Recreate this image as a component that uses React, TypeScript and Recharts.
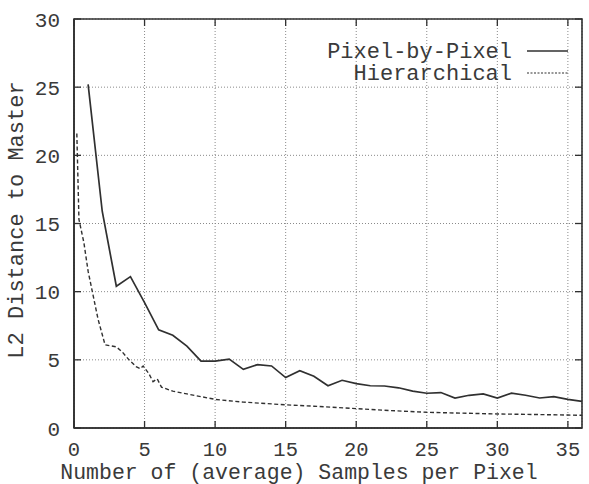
import React from "react";
import {
  LineChart,
  Line,
  XAxis,
  YAxis,
  CartesianGrid,
  ReferenceArea,
  Legend,
} from "recharts";

const xTicks = [0, 5, 10, 15, 20, 25, 30, 35];
const yTicks = [0, 5, 10, 15, 20, 25, 30];

const pixelX = [
  1, 2, 3, 4, 5, 6, 7, 8, 9, 10, 11, 12, 13, 14, 15, 16, 17, 18, 19, 20, 21,
  22, 23, 24, 25, 26, 27, 28, 29, 30, 31, 32, 33, 34, 35, 36,
];
const pixelY = [
  25.2, 15.9, 10.4, 11.1, 9.2, 7.2, 6.8, 6.0, 4.9, 4.9, 5.05, 4.3, 4.65, 4.55,
  3.7, 4.2, 3.8, 3.1, 3.5, 3.25, 3.1, 3.08, 2.95, 2.7, 2.55, 2.6, 2.2, 2.4, 2.5,
  2.2, 2.55, 2.4, 2.2, 2.3, 2.1, 1.95,
];

const hierX = [
  0.2, 0.35, 0.7, 1.0, 1.3, 1.7, 2.2, 3.0, 3.4, 3.9, 4.4, 4.7, 4.9, 5.3, 5.6,
  5.9, 6.2, 7, 8, 9, 10, 12, 15, 17, 20, 22, 25, 27, 30, 32, 35, 36,
];
const hierY = [
  21.6, 15.3, 13.6, 11.5, 10.0, 8.0, 6.1, 5.95, 5.6, 5.0, 4.5, 4.35, 4.55, 4.0,
  3.4, 3.6, 3.0, 2.7, 2.5, 2.3, 2.1, 1.9, 1.7, 1.6, 1.42, 1.3, 1.15, 1.1, 1.03,
  1.0, 0.95, 0.93,
];

const seriesNames = ["Pixel-by-Pixel", "Hierarchical"];
const xLabel = "Number of (average) Samples per Pixel";
const yLabel = "L2 Distance to Master";

const pixelData = pixelX.map((x, i) => ({ x, y: pixelY[i] }));
const hierData = hierX.map((x, i) => ({ x, y: hierY[i] }));

const FONT = "'Liberation Mono', 'Courier New', 'DejaVu Sans Mono', monospace";
const INK = "#303030";
const TEXT_INK = "#3a3a3a";
const PLOT_LEFT = 74;
const PLOT_RIGHT = 582;
const PLOT_TOP = 19;
const PLOT_BOTTOM = 428;
const TICK = 7;
const HIER_DASH = "4 2.5";

const XTick = (props: any) => {
  const { x, payload } = props;
  return (
    <g>
      <line
        x1={x}
        y1={PLOT_BOTTOM}
        x2={x}
        y2={PLOT_BOTTOM - TICK}
        stroke={INK}
        strokeWidth={1.3}
      />
      <line
        x1={x}
        y1={PLOT_TOP}
        x2={x}
        y2={PLOT_TOP + TICK}
        stroke={INK}
        strokeWidth={1.3}
      />
      <text
        x={x}
        y={PLOT_BOTTOM + 28}
        textAnchor="middle"
        fontFamily={FONT}
        fontSize={20.5}
        fill={TEXT_INK}
      >
        {payload.value}
      </text>
    </g>
  );
};

const YTick = (props: any) => {
  const { y, payload } = props;
  return (
    <g>
      <line
        x1={PLOT_LEFT}
        y1={y}
        x2={PLOT_LEFT + TICK}
        y2={y}
        stroke={INK}
        strokeWidth={1.3}
      />
      <line
        x1={PLOT_RIGHT}
        y1={y}
        x2={PLOT_RIGHT - TICK}
        y2={y}
        stroke={INK}
        strokeWidth={1.3}
      />
      <text
        x={PLOT_LEFT - 14}
        y={y + 7.5}
        textAnchor="end"
        fontFamily={FONT}
        fontSize={21}
        fill={TEXT_INK}
      >
        {payload.value}
      </text>
    </g>
  );
};

const LegendContent = () => (
  <svg width={589} height={90} style={{ display: "block" }}>
    <text
      x={512}
      y={57.5}
      textAnchor="end"
      fontFamily={FONT}
      fontSize={22}
      fill={TEXT_INK}
    >
      {seriesNames[0]}
    </text>
    <line x1={527} y1={51} x2={568} y2={51} stroke={INK} strokeWidth={1.4} />
    <text
      x={512}
      y={80}
      textAnchor="end"
      fontFamily={FONT}
      fontSize={22}
      fill={TEXT_INK}
    >
      {seriesNames[1]}
    </text>
    <line
      x1={527}
      y1={73}
      x2={568}
      y2={73}
      stroke={INK}
      strokeWidth={1.2}
      strokeDasharray="2 1.5"
    />
  </svg>
);

export default function App() {
  return (
    <div style={{ position: "absolute", left: 0, top: 0, background: "#fff" }}>
      <LineChart
        width={589}
        height={484}
        margin={{ top: 19, right: 7, bottom: 0, left: 0 }}
      >
        <CartesianGrid
          stroke="#8a8a8a"
          strokeDasharray="1 2"
          strokeWidth={1}
        />
        <XAxis
          type="number"
          dataKey="x"
          domain={[0, 36]}
          ticks={xTicks}
          allowDataOverflow
          height={56}
          tickSize={0}
          tickMargin={0}
          tickLine={false}
          axisLine={{ stroke: INK, strokeWidth: 1.6 }}
          tick={<XTick />}
          interval={0}
          label={{
            content: () => (
              <text
                x={299}
                y={479}
                textAnchor="middle"
                fontFamily={FONT}
                fontSize={21.5}
                fill={TEXT_INK}
              >
                {xLabel}
              </text>
            ),
          }}
        />
        <YAxis
          type="number"
          domain={[0, 30]}
          ticks={yTicks}
          allowDataOverflow
          width={74}
          tickSize={0}
          tickMargin={0}
          tickLine={false}
          axisLine={{ stroke: INK, strokeWidth: 1.6 }}
          tick={<YTick />}
          interval={0}
          label={{
            content: () => (
              <text
                x={23}
                y={220}
                transform="rotate(-90 23 220)"
                textAnchor="middle"
                fontFamily={FONT}
                fontSize={22}
                fill={TEXT_INK}
              >
                {yLabel}
              </text>
            ),
          }}
        />
        <ReferenceArea
          x1={0}
          x2={36}
          y1={0}
          y2={30}
          fill="none"
          fillOpacity={0}
          stroke={INK}
          strokeWidth={1.6}
          ifOverflow="visible"
        />
        <Line
          data={pixelData}
          dataKey="y"
          name={seriesNames[0]}
          type="linear"
          stroke={INK}
          strokeWidth={1.7}
          dot={false}
          activeDot={false}
          isAnimationActive={false}
        />
        <Line
          data={hierData}
          dataKey="y"
          name={seriesNames[1]}
          type="linear"
          stroke={INK}
          strokeWidth={1.4}
          strokeDasharray={HIER_DASH}
          dot={false}
          activeDot={false}
          isAnimationActive={false}
        />
        <Legend
          layout="vertical"
          align="center"
          verticalAlign="middle"
          wrapperStyle={{ left: 0, top: 0, width: 589, height: 90 }}
          content={<LegendContent />}
        />
      </LineChart>
    </div>
  );
}
